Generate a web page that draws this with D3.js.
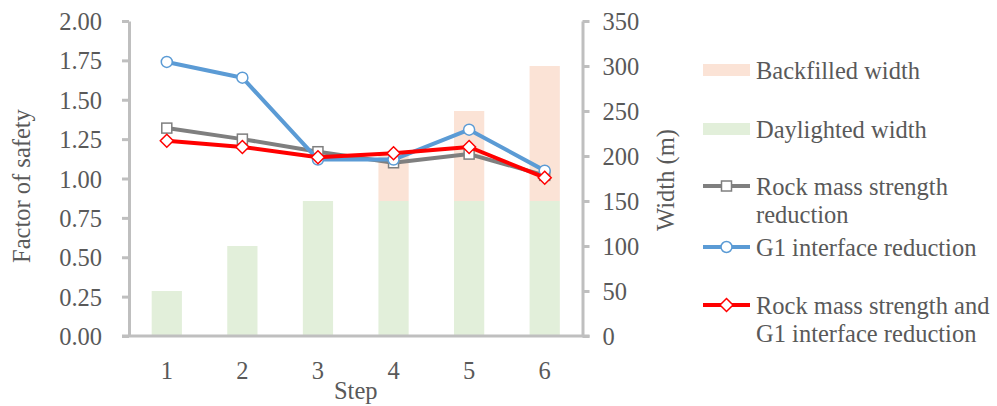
<!DOCTYPE html>
<html>
<head>
<meta charset="utf-8">
<script src="https://cdn.jsdelivr.net/npm/d3@7"></script>
<style>
  html, body { margin: 0; padding: 0; background: #fff; }
  svg { display: block; font-family: "Liberation Serif", "Times New Roman", serif; }
</style>
</head>
<body>
<svg id="chart" width="997" height="406"></svg>
<script>
// ---- data ----
const steps = ["1", "2", "3", "4", "5", "6"];
const daylightedWidth = [50, 100, 150, 150, 150, 150];
const backfilledWidth = [0, 0, 0, 50, 100, 150];
const rockMassFS = [1.32, 1.25, 1.17, 1.10, 1.155, 1.02];
const g1InterfaceFS = [1.74, 1.64, 1.12, 1.12, 1.31, 1.05];
const combinedFS = [1.24, 1.20, 1.135, 1.16, 1.20, 1.005];
const leftTicks = [0, 0.25, 0.5, 0.75, 1.0, 1.25, 1.5, 1.75, 2.0];
const rightTicks = [0, 50, 100, 150, 200, 250, 300, 350];

const textColor = "#595959";
const axisColor = "#BFBFBF";
const colBackfilled = "#FBE3D6";
const colDaylighted = "#E2EFDA";
const colGray = "#7F7F7F";
const colBlue = "#5B9BD5";
const colRed = "#FF0000";
const fontSize = 24.5;

const svg = d3.select("#chart");
const pLeft = 129, pRight = 582.5, pTop = 21, pBottom = 336;

const x = d3.scaleBand().domain(steps).range([pLeft, pRight]).paddingInner(0.6).paddingOuter(0.3);
const yL = d3.scaleLinear().domain([0, 2]).range([pBottom, pTop]);
const yR = d3.scaleLinear().domain([0, 350]).range([pBottom, pTop]);

// ---- bars (stacked) ----
const gBars = svg.append("g");
gBars.selectAll("rect.day").data(steps).join("rect")
  .attr("x", d => x(d)).attr("width", x.bandwidth())
  .attr("y", (d, i) => yR(daylightedWidth[i]))
  .attr("height", (d, i) => yR(0) - yR(daylightedWidth[i]))
  .attr("fill", colDaylighted);
gBars.selectAll("rect.back").data(steps).join("rect")
  .attr("x", d => x(d)).attr("width", x.bandwidth())
  .attr("y", (d, i) => yR(daylightedWidth[i] + backfilledWidth[i]))
  .attr("height", (d, i) => yR(daylightedWidth[i]) - yR(daylightedWidth[i] + backfilledWidth[i]))
  .attr("fill", colBackfilled);

// ---- axes ----
function styleAxis(g) {
  g.selectAll(".domain").attr("stroke", axisColor).attr("stroke-width", 3);
  g.selectAll(".tick line").attr("stroke", axisColor).attr("stroke-width", 3);
  g.selectAll(".tick text").attr("fill", textColor).attr("font-size", fontSize)
    .attr("font-family", "'Liberation Serif', 'Times New Roman', serif");
}
const axL = svg.append("g").attr("transform", `translate(${pLeft},0)`)
  .call(d3.axisLeft(yL).tickValues(leftTicks).tickFormat(d3.format(".2f")).tickSize(7).tickSizeOuter(0).tickPadding(20));
styleAxis(axL);
axL.selectAll(".tick text").attr("dy", "0.35em");

const axR = svg.append("g").attr("transform", `translate(${pRight},0)`)
  .call(d3.axisRight(yR).tickValues(rightTicks).tickSize(7).tickSizeOuter(0).tickPadding(13));
styleAxis(axR);
axR.selectAll(".tick text").attr("dy", "0.35em");

const axB = svg.append("g").attr("transform", `translate(0,${pBottom})`)
  .call(d3.axisBottom(x).tickSize(0).tickSizeOuter(0).tickPadding(26));
styleAxis(axB);
axB.select(".domain").remove();
svg.append("line").attr("x1", pLeft - 7).attr("x2", pRight + 7)
  .attr("y1", pBottom).attr("y2", pBottom)
  .attr("stroke", axisColor).attr("stroke-width", 3);

// ---- axis titles ----
svg.append("text").attr("transform", `translate(30,186) rotate(-90)`)
  .attr("text-anchor", "middle").attr("fill", textColor).attr("font-size", fontSize)
  .text("Factor of safety");
svg.append("text").attr("transform", `translate(674,180) rotate(-90)`)
  .attr("text-anchor", "middle").attr("fill", textColor).attr("font-size", fontSize)
  .text("Width (m)");
svg.append("text").attr("x", (pLeft + pRight) / 2).attr("y", 399)
  .attr("text-anchor", "middle").attr("fill", textColor).attr("font-size", fontSize)
  .text("Step");

// ---- lines ----
const cx = d => x(d) + x.bandwidth() / 2;
const series = [
  { vals: rockMassFS, color: colGray, marker: "square" },
  { vals: g1InterfaceFS, color: colBlue, marker: "circle" },
  { vals: combinedFS, color: colRed, marker: "diamond" }
];
function drawMarker(g, type, px, py, color) {
  if (type === "square") {
    g.append("rect").attr("x", px - 5).attr("y", py - 5).attr("width", 10).attr("height", 10)
      .attr("fill", "#fff").attr("stroke", color).attr("stroke-width", 1.5);
  } else if (type === "circle") {
    g.append("circle").attr("cx", px).attr("cy", py).attr("r", 5.5)
      .attr("fill", "#fff").attr("stroke", color).attr("stroke-width", 1.5);
  } else {
    const r = 6.5;
    g.append("path").attr("d", `M${px},${py - r}L${px + r},${py}L${px},${py + r}L${px - r},${py}Z`)
      .attr("fill", "#fff").attr("stroke", color).attr("stroke-width", 1.5);
  }
}
const lineGen = d3.line();
series.forEach(s => {
  const pts = steps.map((d, i) => [cx(d), yL(s.vals[i])]);
  const g = svg.append("g");
  g.append("path").attr("d", lineGen(pts)).attr("fill", "none")
    .attr("stroke", s.color).attr("stroke-width", 4).attr("stroke-linejoin", "round");
  pts.forEach(p => drawMarker(g, s.marker, p[0], p[1], s.color));
});

// ---- legend ----
const lg = svg.append("g");
const lx0 = 703, lx1 = 750, tx = 756;
lg.append("rect").attr("x", lx0).attr("y", 64).attr("width", lx1 - lx0).attr("height", 12).attr("fill", colBackfilled);
lg.append("text").attr("x", tx).attr("y", 79).attr("fill", textColor).attr("font-size", fontSize).text("Backfilled width");
lg.append("rect").attr("x", lx0).attr("y", 123).attr("width", lx1 - lx0).attr("height", 12).attr("fill", colDaylighted);
lg.append("text").attr("x", tx).attr("y", 138).attr("fill", textColor).attr("font-size", fontSize).text("Daylighted width");

const legLines = [
  { y: 186, color: colGray, marker: "square", lines: ["Rock mass strength", "reduction"] },
  { y: 247, color: colBlue, marker: "circle", lines: ["G1 interface reduction"] },
  { y: 305, color: colRed, marker: "diamond", lines: ["Rock mass strength and", "G1 interface reduction"] }
];
legLines.forEach(e => {
  lg.append("line").attr("x1", lx0).attr("x2", lx1).attr("y1", e.y).attr("y2", e.y)
    .attr("stroke", e.color).attr("stroke-width", 4);
  drawMarker(lg, e.marker, (lx0 + lx1) / 2, e.y, e.color);
  e.lines.forEach((t, i) => {
    lg.append("text").attr("x", tx).attr("y", e.y + 9 + i * 28)
      .attr("fill", textColor).attr("font-size", fontSize).text(t);
  });
});
</script>
</body>
</html>
